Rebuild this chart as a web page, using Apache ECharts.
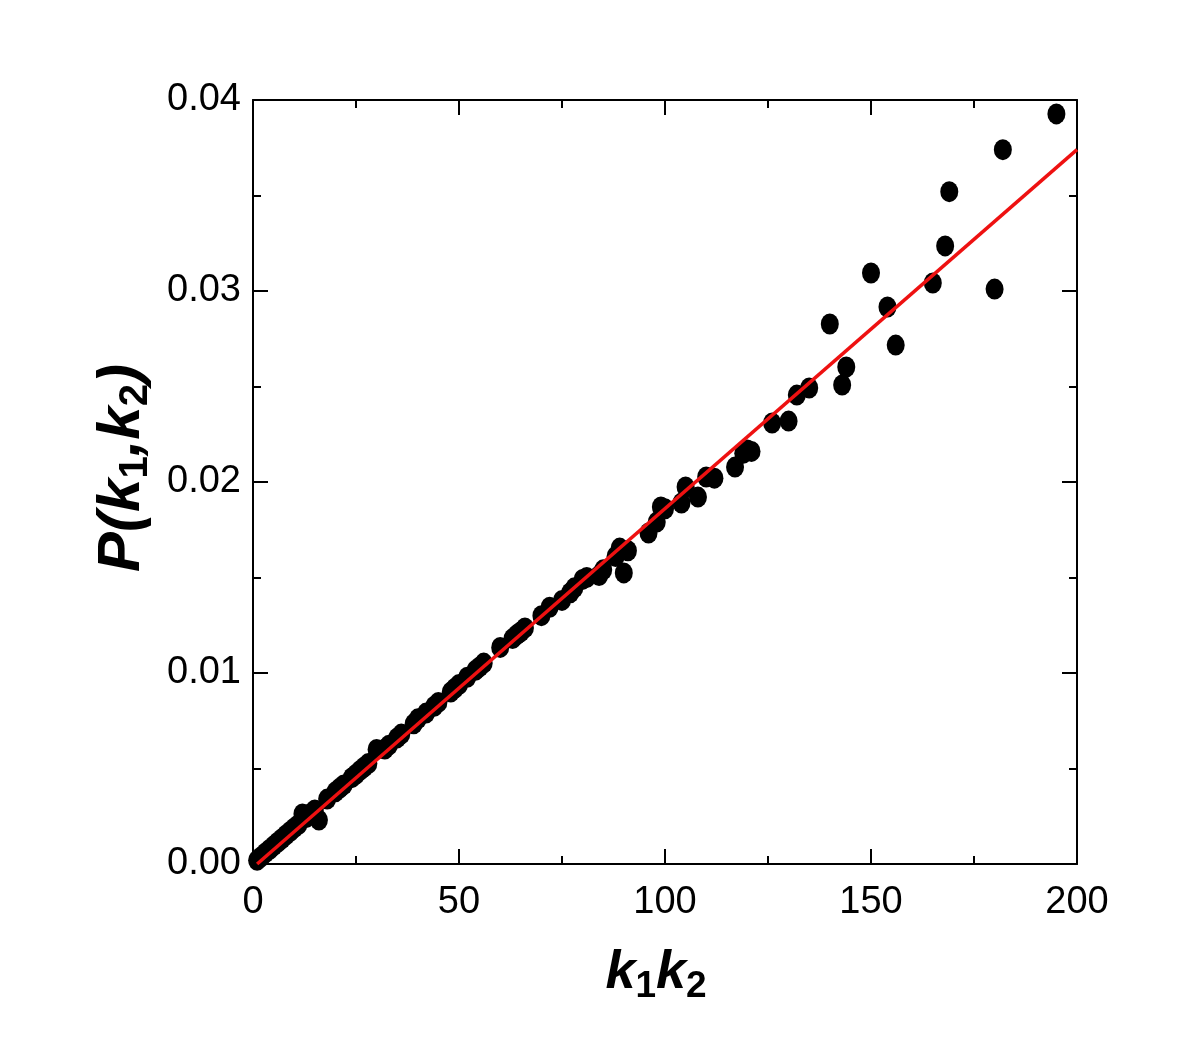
<!DOCTYPE html>
<html>
<head>
<meta charset="utf-8">
<script src="https://cdn.jsdelivr.net/npm/echarts@6/dist/echarts.min.js"></script>
<style>html,body{margin:0;padding:0;background:#fff}#c{width:1200px;height:1058px}</style>
</head>
<body>
<div id="c"></div>
<script>
// k1k2 values (x) and P(k1,k2) values (y)
const xVals = [1,2,3,4,5,6,7,8,9,10,11,12,13,14,15,16,18,20,21,22,24,25,26,27,28,30,
  32,33,35,36,39,40,42,44,45,48,49,50,52,54,55,56,60,63,64,65,66,70,72,75,77,78,80,81,84,85,88,89,90,91,
  96,98,99,100,104,105,108,110,112,117,119,120,121,126,130,132,135,140,143,144,150,154,156,165,168,169,180,182,195];
const yVals = [0.00019,0.00038,0.00058,0.00076,0.00095,0.00114,0.00132,0.00152,0.00170,0.00189,0.00206,0.00262,0.00244,0.00265,0.00283,0.00230,0.00340,0.00378,0.00396,0.00414,0.00452,0.00470,0.00490,0.00508,0.00526,0.00600,
  0.00602,0.00622,0.00660,0.00680,0.00734,0.00760,0.00790,0.00826,0.00846,0.00900,0.00920,0.00940,0.00978,0.01014,0.01032,0.01052,0.01134,0.01180,0.01200,0.01216,0.01236,0.01300,0.01344,0.01380,0.01420,0.01446,0.01490,0.01500,0.01510,0.01540,0.01610,0.01654,0.01524,0.01640,
  0.01733,0.01790,0.01869,0.01860,0.01890,0.01974,0.01921,0.02026,0.02020,0.02078,0.02150,0.02168,0.02160,0.02309,0.02319,0.02455,0.02492,0.02827,0.02508,0.02602,0.03094,0.02916,0.02717,0.03042,0.03236,0.03520,0.03010,0.03740,0.03927];
// linear fit line endpoints
const fitX = [1, 200];
const fitY = [0, 0.0374];
const xTicks = [0, 50, 100, 150, 200];
const yTicks = ['0.00', '0.01', '0.02', '0.03', '0.04'];

const points = xVals.map((x, i) => [x, yVals[i]]);
const fit = fitX.map((x, i) => [x, fitY[i]]);

const FONT = '"Liberation Sans Narrow", "Liberation Sans", Arial, sans-serif';
const TFONT = '"Liberation Sans", Arial, sans-serif';
const axisCommon = {
  axisLine: {show: true, onZero: false, lineStyle: {color: '#000', width: 2}},
  axisTick: {show: true, inside: true, length: 15, lineStyle: {color: '#000', width: 2}},
  minorTick: {show: true, splitNumber: 2, length: 8, lineStyle: {color: '#000', width: 2}},
  splitLine: {show: false},
  minorSplitLine: {show: false}
};
const xRich = {
  i: {fontFamily: TFONT, fontWeight: 'bold', fontStyle: 'italic', fontSize: 54, color: '#000'},
  s: {fontFamily: TFONT, fontWeight: 'bold', fontSize: 37, color: '#000', verticalAlign: 'bottom', padding: [26, 0, 0, 0]}
};
const yRich = {
  i: {fontFamily: TFONT, fontWeight: 'bold', fontStyle: 'italic', fontSize: 60, color: '#000'},
  s: {fontFamily: TFONT, fontWeight: 'bold', fontSize: 40, color: '#000', verticalAlign: 'bottom', padding: [28, 0, 0, 0]}
};

const chart = echarts.init(document.getElementById('c'), null, {renderer: 'canvas'});
chart.setOption({
  animation: false,
  backgroundColor: '#fff',
  grid: {left: 253, right: 123, top: 100, bottom: 194, containLabel: false},
  xAxis: [
    Object.assign({}, axisCommon, {
      type: 'value', min: 0, max: 200, interval: 50, position: 'bottom',
      axisLabel: {show: true, margin: 20, fontSize: 38, fontFamily: FONT, color: '#000',
        formatter: (v) => String(xTicks[Math.round(v / 50)])},
      name: '{i|k}{s|1}{i|k}{s|2}', nameLocation: 'middle', nameGap: 78,
      nameTextStyle: {rich: xRich, padding: [0, 18, 0, 0]}
    }),
    Object.assign({}, axisCommon, {
      type: 'value', min: 0, max: 200, interval: 50, position: 'top',
      axisLabel: {show: false}
    })
  ],
  yAxis: [
    Object.assign({}, axisCommon, {
      type: 'value', min: 0, max: 0.04, interval: 0.01, position: 'left',
      axisLabel: {show: true, margin: 12, fontSize: 38, fontFamily: FONT, color: '#000',
        formatter: (v) => yTicks[Math.round(v / 0.01)]},
      name: '{i|P}{i|(}{i|k}{s|1}{i|,}{i|k}{s|2}{i|)}', nameLocation: 'middle', nameGap: 88, nameRotate: 90,
      nameTextStyle: {rich: yRich, padding: [0, 0, 0, 28]}
    }),
    Object.assign({}, axisCommon, {
      type: 'value', min: 0, max: 0.04, interval: 0.01, position: 'right',
      axisLabel: {show: false}
    })
  ],
  series: [
    {
      type: 'scatter', xAxisIndex: 0, yAxisIndex: 0,
      data: points, symbol: 'circle', symbolSize: [18, 21],
      itemStyle: {color: '#000', opacity: 1}, z: 2, silent: true
    },
    {
      type: 'line', xAxisIndex: 0, yAxisIndex: 0,
      data: fit, showSymbol: false, symbol: 'none',
      lineStyle: {color: '#ee1111', width: 3.5}, z: 3, silent: true
    }
  ]
});
</script>
</body>
</html>
